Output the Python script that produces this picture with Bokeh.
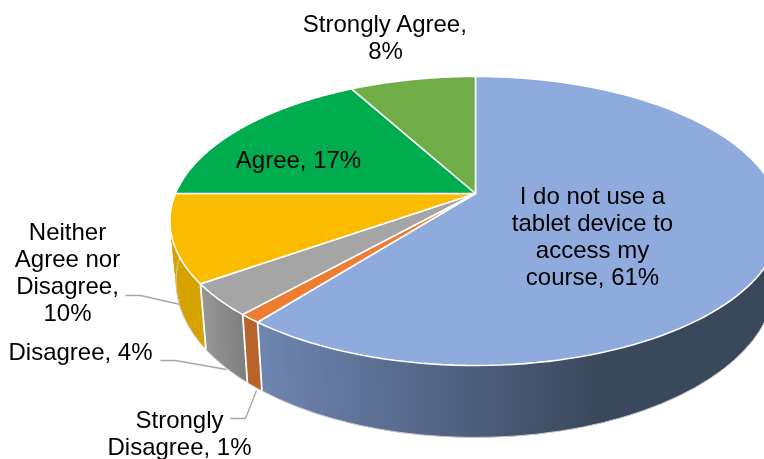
import numpy as np
from bokeh.plotting import figure
from bokeh.models import Range1d
from bokeh.core.properties import value
from bokeh.embed import file_html
from bokeh.resources import INLINE

categories = ["I do not use a tablet device to access my course", "Strongly Disagree", "Disagree",
              "Neither Agree nor Disagree", "Agree", "Strongly Agree"]
shares = [60.6, 1.0, 3.6, 9.8, 17.0, 8.0]
top_colors = ["#8faadc", "#ed7d31", "#a5a5a5", "#fbbc00", "#00ad4e", "#70ad47"]

label_texts = ["I do not use a\ntablet device to\naccess my\ncourse, 61%", "Strongly\nDisagree, 1%", "Disagree, 4%",
               "Neither\nAgree nor\nDisagree,\n10%", "Agree, 17%", "Strongly Agree,\n8%"]
label_x = [592, 179, 80, 67, 298, 385]
label_y = [235, 432, 351, 271, 159, 36]

leader_xs = [[125, 140, 180], [160, 175, 226], [230, 245, 256]]
leader_ys = [[295, 295, 304], [360, 360, 369], [418, 418, 390]]

# perspective model of the pie disc
CX, CY, RX, RY, PERSP, DEPTH, SHRINK = 475, 193, 300, 139.3, 0.19, 58.3, 0.98


def top_pt(theta):
    u, v = np.sin(theta), np.cos(theta)
    d = 1 + PERSP * v
    return CX + RX * u / d, CY - RY * v / d


def bottom_pt(theta):
    x, y = top_pt(theta)
    d = 1 + PERSP * np.cos(theta)
    return CX + (x - CX) * SHRINK, y + DEPTH / d


def mix(a, b, t):
    t = min(max(t, 0), 1)
    ca = [int(a[i:i + 2], 16) for i in (1, 3, 5)]
    cb = [int(b[i:i + 2], 16) for i in (1, 3, 5)]
    return "#%02x%02x%02x" % tuple(round(p + (q - p) * t) for p, q in zip(ca, cb))


def wall_color(i, x):
    if i == 0:
        return mix("#6f86b1", "#3a485c", (x - 255) / 345)
    if i == 1:
        return "#b8632a"
    if i == 2:
        return mix("#979797", "#7c7c7c", (x - 200) / 45)
    return "#d6a200"


p = figure(width=764, height=459, toolbar_location=None, output_backend="svg",
           x_range=Range1d(0, 764), y_range=Range1d(459, 0), min_border=0,
           outline_line_color=None, tools="")
p.axis.visible = False
p.grid.visible = False
p.styles = {"position": "fixed", "left": "0px", "top": "0px"}

edges = 2 * np.pi * np.concatenate([[0], np.cumsum(shares)]) / sum(shares)
VIS_END = 2 * np.pi * 0.765

# side wall, strip by strip; each strip overlaps the next so that no seams show
for i in range(len(shares)):
    a, b = edges[i], min(edges[i + 1], VIS_END)
    if a >= b:
        continue
    steps = max(2, int((b - a) / 0.015))
    th = np.linspace(a, b, steps + 1)
    for k in range(steps):
        span = th[k:min(k + 3, steps + 1)]
        tops = [top_pt(t) for t in span]
        bots = [bottom_pt(t) for t in span][::-1]
        c = wall_color(i, (top_pt(th[k])[0] + top_pt(th[k + 1])[0]) / 2)
        p.patch([q[0] for q in tops] + [q[0] for q in bots],
                [q[1] for q in tops] + [q[1] for q in bots],
                fill_color=c, line_color=None)
    fine = np.linspace(a, b, 60)
    p.line([bottom_pt(t)[0] for t in fine], [bottom_pt(t)[1] for t in fine], line_color="#cfcfcf", line_width=1)

# separators on the wall
for e in edges[1:4]:
    tx, ty = top_pt(e)
    bx, by = bottom_pt(e)
    p.line([tx, bx], [ty, by], line_color="white", line_width=1.8)

# top face
for i in range(len(shares)):
    th = np.linspace(edges[i], edges[i + 1], 120)
    xs = [CX] + [top_pt(t)[0] for t in th]
    ys = [CY] + [top_pt(t)[1] for t in th]
    p.patch(xs, ys, fill_color=top_colors[i], line_color="white", line_width=1.6)

p.multi_line(leader_xs, leader_ys, line_color="#a6a6a6", line_width=1.4)

p.text(label_x, label_y, text=label_texts, text_font=value("Liberation Sans"), text_font_size="24px",
       text_color="black", text_align="center", text_baseline="middle", text_line_height=1.0)

open("out.html", "w").write(file_html(p, INLINE))
